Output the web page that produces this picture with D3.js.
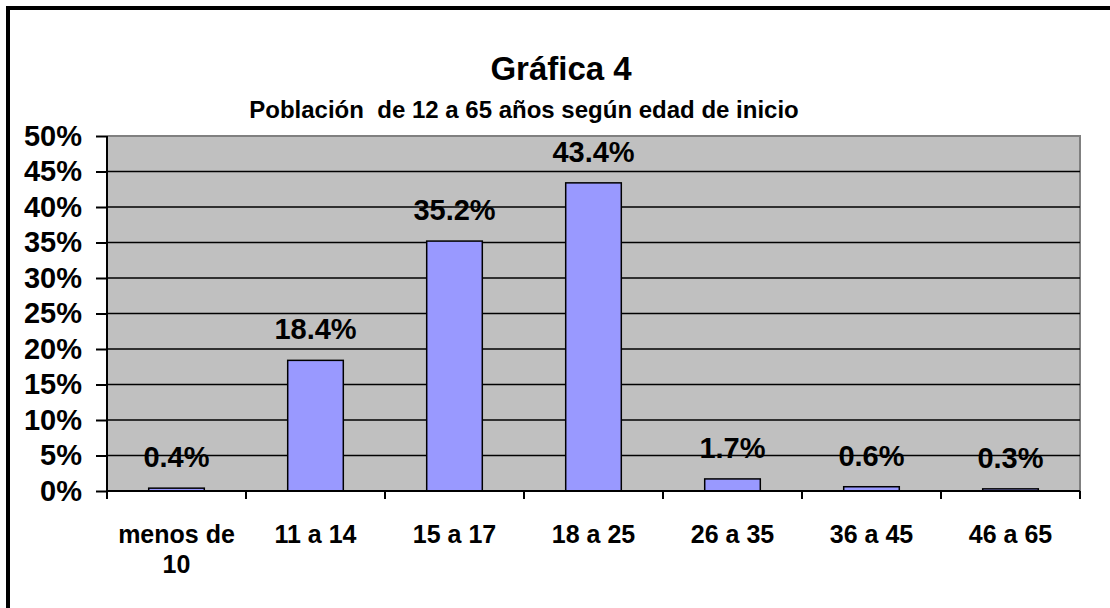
<!DOCTYPE html>
<html>
<head>
<meta charset="utf-8">
<script src="https://cdn.jsdelivr.net/npm/d3@7"></script>
<style>
  body { margin: 0; background: #fff; }
  svg { display: block; font-family: Arial, "Liberation Sans", sans-serif; font-weight: bold; }
</style>
</head>
<body>
<svg class="chart" width="1110" height="608"></svg>
<script>
// datos
var categories = [["menos de", "10"], ["11 a 14"], ["15 a 17"], ["18 a 25"], ["26 a 35"], ["36 a 45"], ["46 a 65"]]
var values = [0.4, 18.4, 35.2, 43.4, 1.7, 0.6, 0.3]
var yTicks = [0, 5, 10, 15, 20, 25, 30, 35, 40, 45, 50]

var width = 1110, height = 608
// area de trazado (no usar "top", choca con window.top)
var pLeft = 107, pRight = 1080, pTop = 136, pBottom = 491

var svg = d3.select(".chart")

// marco exterior (sale por la derecha y abajo)
svg.append("rect")
    .attr("x", 8).attr("y", 8)
    .attr("width", width).attr("height", height)
    .attr("fill", "none").attr("stroke", "#000").attr("stroke-width", 4)

var x = d3.scaleBand()
    .domain(categories.map(d => d.join(" ")))
    .range([pLeft, pRight])
    .paddingInner(0.6)
    .paddingOuter(0.3)

var y = d3.scaleLinear()
    .domain([0, 50])
    .range([pBottom, pTop])

// fondo gris del area de trazado
svg.append("rect")
    .attr("x", pLeft).attr("y", pTop)
    .attr("width", pRight - pLeft).attr("height", pBottom - pTop)
    .attr("fill", "#c0c0c0")

// borde gris arriba y a la derecha
svg.append("path")
    .attr("d", `M${pLeft},${pTop}H${pRight}V${pBottom}`)
    .attr("fill", "none").attr("stroke", "#808080").attr("stroke-width", 2)

// lineas de cuadricula
svg.append("g")
    .selectAll("line")
    .data(yTicks.filter(d => d > 0 && d < 50))
    .enter().append("line")
    .attr("x1", pLeft).attr("x2", pRight)
    .attr("y1", d => y(d)).attr("y2", d => y(d))
    .attr("stroke", "#000").attr("stroke-width", 1.5)

// barras
svg.append("g")
    .selectAll("rect")
    .data(values)
    .enter().append("rect")
    .attr("x", (d, i) => x(categories[i].join(" ")))
    .attr("width", x.bandwidth())
    .attr("y", d => y(d))
    .attr("height", d => y(0) - y(d))
    .attr("fill", "#9999ff")
    .attr("stroke", "#000").attr("stroke-width", 1.5)

// etiquetas de valor
svg.append("g")
    .attr("text-anchor", "middle")
    .style("font-size", "29px")
    .selectAll("text")
    .data(values)
    .enter().append("text")
    .attr("x", (d, i) => x(categories[i].join(" ")) + x.bandwidth() / 2)
    .attr("y", d => y(d) - 21)
    .text(d => d.toFixed(1) + "%")

// eje y
var yAxis = d3.axisLeft(y)
    .tickValues(yTicks)
    .tickFormat(d => d + "%")
    .tickSize(11)
    .tickPadding(14)

svg.append("g")
    .attr("transform", `translate(${pLeft},0)`)
    .call(yAxis)
    .call(g => g.select(".domain").attr("stroke-width", 2).attr("d", `M0,${pTop}V${pBottom}`))
    .call(g => g.selectAll(".tick line").attr("stroke-width", 2))
    .call(g => g.selectAll(".tick text")
        .attr("fill", "#000")
        .style("font-size", "29px")
        .style("font-family", "Arial, 'Liberation Sans', sans-serif")
        .style("font-weight", "bold"))

// eje x: linea y marcas entre categorias
var step = x.step()
var edges = d3.range(categories.length + 1).map(i => pLeft + i * step)

svg.append("line")
    .attr("x1", pLeft).attr("x2", pRight)
    .attr("y1", pBottom).attr("y2", pBottom)
    .attr("stroke", "#000").attr("stroke-width", 2)

svg.append("g")
    .selectAll("line")
    .data(edges)
    .enter().append("line")
    .attr("x1", d => d).attr("x2", d => d)
    .attr("y1", pBottom).attr("y2", pBottom + 8)
    .attr("stroke", "#000").attr("stroke-width", 2)

var cat = svg.append("g")
    .attr("text-anchor", "middle")
    .style("font-size", "25px")
    .selectAll("text")
    .data(categories)
    .enter().append("text")
    .attr("x", d => x(d.join(" ")) + x.bandwidth() / 2)
    .attr("y", 543)

cat.selectAll("tspan")
    .data(d => d)
    .enter().append("tspan")
    .attr("x", function () { return d3.select(this.parentNode).attr("x") })
    .attr("dy", (d, i) => i ? 30 : 0)
    .text(d => d)

// titulos
svg.append("text")
    .attr("x", 561).attr("y", 80)
    .attr("text-anchor", "middle")
    .style("font-size", "33px")
    .text("Gráfica 4")

svg.append("text")
    .attr("x", 524).attr("y", 118)
    .attr("text-anchor", "middle")
    .style("font-size", "24px")
    .style("white-space", "pre")
    .attr("xml:space", "preserve")
    .text("Población  de 12 a 65 años según edad de inicio")
</script>
</body>
</html>
